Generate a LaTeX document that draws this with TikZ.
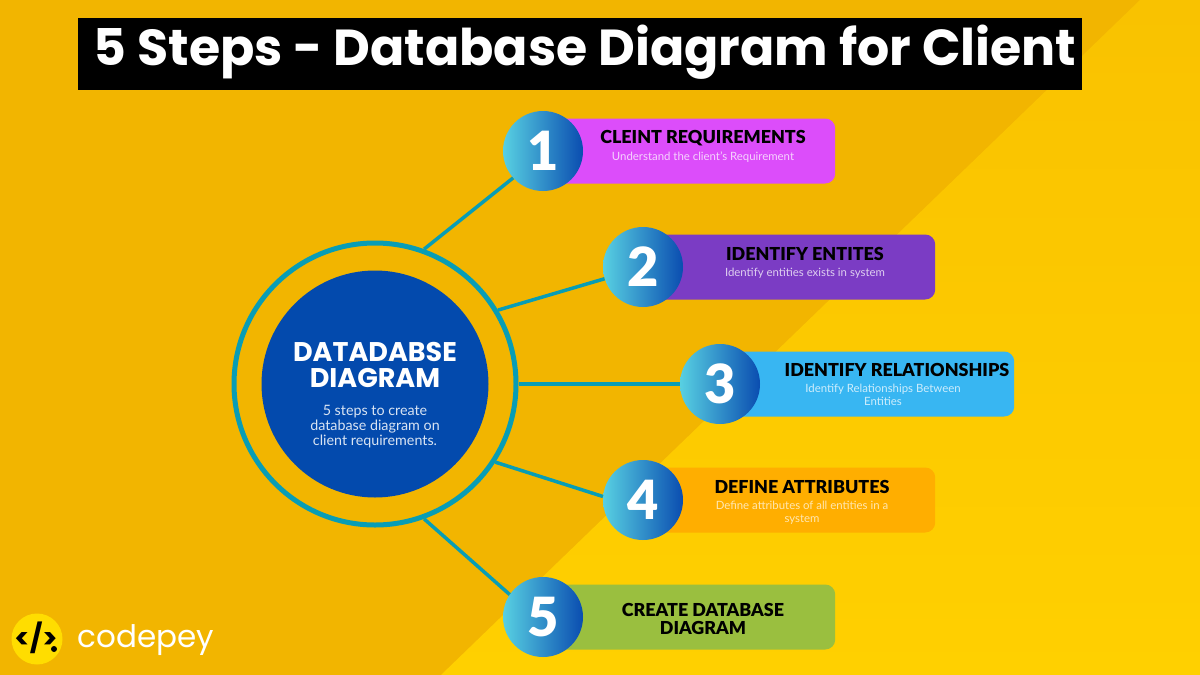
\documentclass[tikz,border=0pt]{standalone}
\usepackage{fontspec}
\setmainfont{Lato}
\newfontfamily\titlefont{Poppins}
\newfontfamily\heavyfont[BoldFont={Lato Black}]{Lato}
\usetikzlibrary{positioning}
\definecolor{bgdark}{HTML}{F2B500}
\definecolor{bglight}{HTML}{FFD000}
\definecolor{bgtop}{HTML}{F9C200}
\definecolor{ringteal}{HTML}{089DB5}
\definecolor{hubblue}{HTML}{034AAD}
\definecolor{badgeleft}{HTML}{58D0E2}
\definecolor{badgeright}{HTML}{0A4DB0}
\definecolor{barpink}{HTML}{DC4DFA}
\definecolor{barpurple}{HTML}{7B3CC4}
\definecolor{barblue}{HTML}{38B6F2}
\definecolor{barorange}{HTML}{FFAE00}
\definecolor{bargreen}{HTML}{9ABF3F}
\definecolor{logoyellow}{HTML}{FFDD00}
\newcommand{\fsz}[2]{\fontsize{#1}{#2}\selectfont}
\tikzset {
  % hub circles
  ring/.style = {draw=ringteal, circle, line width=5pt, minimum size=282pt, inner sep=0pt},
  hub/.style = {fill=hubblue, circle, minimum size=227pt, inner sep=0pt},
  % numbered circles
  badge/.style = {circle, minimum size=80pt, inner sep=0pt, left color=badgeleft, right color=badgeright,
    text=white, font=\heavyfont\bfseries\fsz{54}{54}},
  % coloured bars
  bar/.style = {rounded corners=10pt, minimum width=290pt, minimum height=65pt, anchor=west, inner sep=0pt},
  % texts
  heading/.style = {font=\heavyfont\bfseries\fsz{17.9}{17.5}, text=black, align=center, inner sep=0pt},
  subtext/.style = {font=\fsz{11.4}{13}, align=center, inner sep=0pt},
  link/.style = {ringteal, line width=3.5pt},
}

\begin{document}
\begin{tikzpicture}[x=1pt, y=-1pt]
        \useasboundingbox (0,0) rectangle (1200,675);

        % background
        \fill[bgdark] (0,0) rectangle (1200,675);
        \shade[top color=bgtop, bottom color=bglight] (1140,0) -- (1200,0) -- (1200,675) -- (441,675) -- cycle;

        % title
        \node[fill=black, minimum width=1004pt, minimum height=72pt, inner sep=0pt] (titlebar) at (580,54) {};
        \node[text=white, font=\titlefont\bfseries\fsz{50.6}{50}, inner sep=0pt] (title) at (585,52) {5 Steps - Database Diagram for Client};

        % hub
        \node[ring] (outer) at (375,384) {};
        \node[hub] (inner) at (375,384) {};
        \node[text=white, font=\titlefont\bfseries\fsz{27}{26}, align=center, inner sep=0pt] (hubtitle) at (375,365) {DATADABSE\\DIAGRAM};
        \node[subtext, text=white!85!hubblue, font=\fsz{14.3}{15}] (hubtext) at (375,427) {5 steps to create\\database diagram on\\client requirements.};

        % bars
        \node[bar, fill=barpink] (bar1) at (545,151) {};
        \node[bar, fill=barpurple] (bar2) at (645,267) {};
        \node[bar, fill=barblue, minimum width=294pt] (bar3) at (720,384) {};
        \node[bar, fill=barorange] (bar4) at (645,500) {};
        \node[bar, fill=bargreen] (bar5) at (545,617) {};

        % numbers
        \node[badge] (one) at (543,151) {1};
        \node[badge] (two) at (643,267) {2};
        \node[badge] (three) at (720,384) {3};
        \node[badge] (four) at (643,500) {4};
        \node[badge] (five) at (543,617) {5};

        % links
        \draw[link] (outer.70) -- (one.222);
        \draw[link] (outer.31) -- (two.197);
        \draw[link] (outer.0) -- (three.180);
        \draw[link] (outer.-33) -- (four.175);
        \draw[link] (outer.-70) -- (five.146);

        % bar texts
        \node[heading] (head1) at (703,138) {CLEINT REQUIREMENTS};
        \node[subtext, text=white!75!barpink] (sub1) at (703,157) {Understand the client's Requirement};
        \node[heading] (head2) at (805,254) {IDENTIFY ENTITES};
        \node[subtext, text=white!75!barpurple] (sub2) at (805,273) {Identify entities exists in system};
        \node[heading] (head3) at (897,370) {IDENTIFY RELATIONSHIPS};
        \node[subtext, text=white!75!barblue] (sub3) at (883,395) {Identify Relationships Between\\Entities};
        \node[heading] (head4) at (802,487) {DEFINE ATTRIBUTES};
        \node[subtext, text=white!70!barorange] (sub4) at (802,513) {Define attributes of all entities in a\\system};
        \node[heading] (head5) at (703,619) {CREATE DATABASE\\DIAGRAM};

        % logo
        \node[circle, fill=logoyellow, minimum size=51pt, inner sep=0pt] (logo) at (37,639) {};
        \node[font=\titlefont\bfseries\fsz{28}{28}, inner sep=0pt] (logomark) at (36,638) {</>};
        \node[circle, fill=black, minimum size=6pt, inner sep=0pt] (logodot) at (54,649) {};
        \node[text=white, font=\titlefont\fsz{31}{31}, inner sep=0pt] (brand) at (146,640) {codepey};
      \end{tikzpicture}
\end{document}
